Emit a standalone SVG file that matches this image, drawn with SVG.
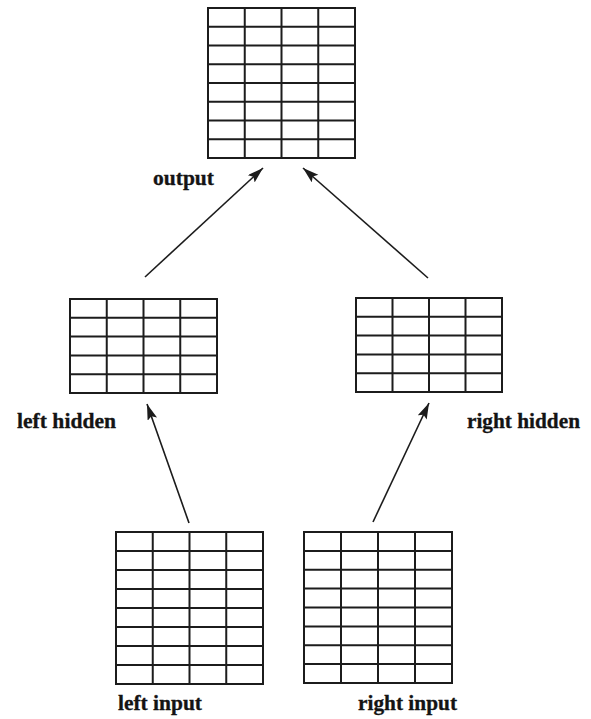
<svg xmlns="http://www.w3.org/2000/svg" width="591" height="719" viewBox="0 0 591 719">
<style>
.g{fill:none;stroke:#1c1c1c;stroke-width:2}
.c{stroke:#1c1c1c;stroke-width:1.6;fill:none}
.t{font-family:"Liberation Serif",serif;font-weight:bold;font-size:20px;fill:#141414;stroke:#141414;stroke-width:0.3}
</style>
<defs>
<marker id="ah" markerUnits="userSpaceOnUse" markerWidth="18" markerHeight="12" refX="16" refY="5" orient="auto">
<path d="M0,0 L16,5 L0,10 L3,5 Z" fill="#1c1c1c"/>
</marker>
</defs>
<rect width="591" height="719" fill="#fff"/>
<g id="output">
<rect class="g" x="208" y="8" width="147" height="150"/>
<path class="g" d="M244.75,8V158M281.5,8V158M318.25,8V158M208,26.75H355M208,45.5H355M208,64.25H355M208,83H355M208,101.75H355M208,120.5H355M208,139.25H355"/>
<text class="t" x="153" y="185" textLength="61" lengthAdjust="spacingAndGlyphs">output</text>
</g>
<g id="left-hidden">
<rect class="g" x="70" y="299" width="147" height="94"/>
<path class="g" d="M106.75,299V393M143.5,299V393M180.25,299V393M70,317.8H217M70,336.6H217M70,355.4H217M70,374.2H217"/>
<text class="t" x="17" y="428" textLength="99" lengthAdjust="spacingAndGlyphs">left hidden</text>
</g>
<g id="right-hidden">
<rect class="g" x="356" y="298" width="146" height="94"/>
<path class="g" d="M392.5,298V392M429,298V392M465.5,298V392M356,316.8H502M356,335.6H502M356,354.4H502M356,373.2H502"/>
<text class="t" x="467" y="428" textLength="113" lengthAdjust="spacingAndGlyphs">right hidden</text>
</g>
<g id="left-input">
<rect class="g" x="116" y="532" width="147" height="152"/>
<path class="g" d="M152.75,532V684M189.5,532V684M226.25,532V684M116,551H263M116,570H263M116,589H263M116,608H263M116,627H263M116,646H263M116,665H263"/>
<text class="t" x="118" y="710" textLength="84" lengthAdjust="spacingAndGlyphs">left input</text>
</g>
<g id="right-input">
<rect class="g" x="304" y="532" width="148" height="151"/>
<path class="g" d="M341,532V683M378,532V683M415,532V683M304,550.9H452M304,569.75H452M304,588.6H452M304,607.5H452M304,626.4H452M304,645.25H452M304,664.1H452"/>
<text class="t" x="358" y="710" textLength="99" lengthAdjust="spacingAndGlyphs">right input</text>
</g>
<g id="connectors">
<line class="c" x1="145" y1="277" x2="263" y2="168" marker-end="url(#ah)"/>
<line class="c" x1="428" y1="278" x2="303" y2="168" marker-end="url(#ah)"/>
<line class="c" x1="189" y1="523" x2="147" y2="404" marker-end="url(#ah)"/>
<line class="c" x1="373" y1="522" x2="429" y2="403" marker-end="url(#ah)"/>
</g>
</svg>
